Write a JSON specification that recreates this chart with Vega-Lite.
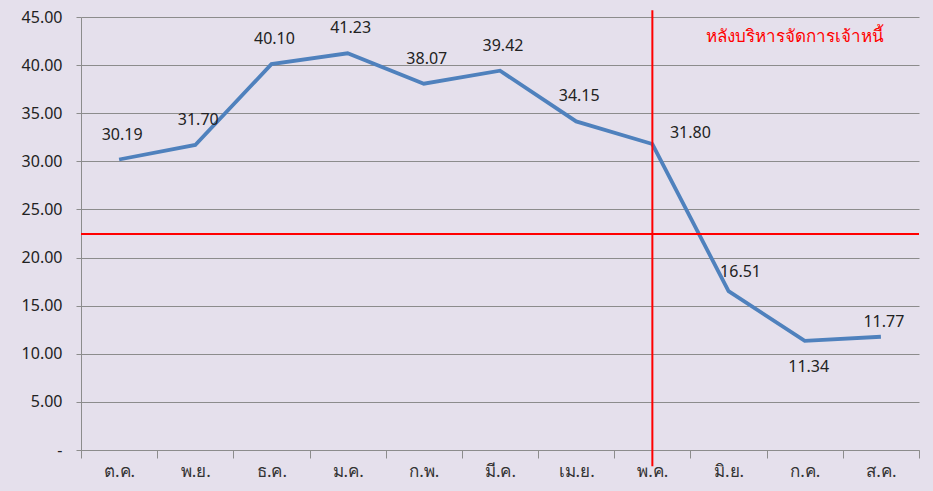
{
  "$schema": "https://vega.github.io/schema/vega-lite/v6.json",
  "autosize": {"type": "none"},
  "width": 838,
  "height": 433,
  "padding": {"left": 81, "top": 17, "right": 14, "bottom": 41},
  "background": "#E5E0EC",
  "config": {
    "view": {"stroke": null},
    "font": "Noto Sans",
    "axis": {"labelFont": "Noto Sans", "labelColor": "#222222"}
  },
  "datasets": {
    "main": [
      {"month": "ต.ค.", "value": 30.19, "pos": "above"},
      {"month": "พ.ย.", "value": 31.70, "pos": "above"},
      {"month": "ธ.ค.", "value": 40.10, "pos": "above"},
      {"month": "ม.ค.", "value": 41.23, "pos": "above"},
      {"month": "ก.พ.", "value": 38.07, "pos": "above"},
      {"month": "มี.ค.", "value": 39.42, "pos": "above"},
      {"month": "เม.ย.", "value": 34.15, "pos": "above"},
      {"month": "พ.ค.", "value": 31.80, "pos": "right"},
      {"month": "มิ.ย.", "value": 16.51, "pos": "upright"},
      {"month": "ก.ค.", "value": 11.34, "pos": "below"},
      {"month": "ส.ค.", "value": 11.77, "pos": "above2"}
    ],
    "vline": [{"month": "พ.ค.", "y0": -1.7, "y1": 45.7}],
    "hline": [{"ref": 22.45}],
    "note": [{"month": "ก.ค.", "y": 42.9, "text": "หลังบริหารจัดการเจ้าหนี้"}]
  },
  "layer": [
    {
      "data": {"name": "main"},
      "mark": {"type": "line", "color": "#4F81BD", "strokeWidth": 3.8},
      "encoding": {
        "x": {
          "field": "month", "type": "nominal", "sort": null,
          "scale": {"paddingInner": 0, "paddingOuter": 0},
          "axis": {
            "title": null, "labelAngle": 0, "labelFontSize": 17, "labelFontWeight": "normal",
            "labelColor": "#333333",
            "tickBand": "extent", "tickSize": 8, "tickColor": "#8C8C8C",
            "domainColor": "#8C8C8C", "labelPadding": 5, "grid": false
          }
        },
        "y": {
          "field": "value", "type": "quantitative",
          "scale": {"domain": [0, 45], "nice": false},
          "axis": {
            "title": null, "values": [0, 5, 10, 15, 20, 25, 30, 35, 40, 45],
            "labelExpr": "datum.value == 0 ? '-' : format(datum.value, '.2f')",
            "labelFontSize": 16, "labelPadding": 14, "tickSize": 5,
            "tickColor": "#8C8C8C", "domainColor": "#8C8C8C",
            "gridColor": "#8C8C8C", "gridWidth": 1
          }
        }
      }
    },
    {
      "data": {"name": "main"},
      "transform": [{"filter": "datum.pos == 'above'"}],
      "mark": {"type": "text", "fontSize": 16, "color": "#222222", "dy": -25, "dx": 3},
      "encoding": {
        "x": {"field": "month", "type": "nominal", "sort": null},
        "y": {"field": "value", "type": "quantitative"},
        "text": {"field": "value", "type": "quantitative", "format": ".2f"}
      }
    },
    {
      "data": {"name": "main"},
      "transform": [{"filter": "datum.pos == 'above2'"}],
      "mark": {"type": "text", "fontSize": 16, "color": "#222222", "dy": -15, "dx": 3},
      "encoding": {
        "x": {"field": "month", "type": "nominal", "sort": null},
        "y": {"field": "value", "type": "quantitative"},
        "text": {"field": "value", "type": "quantitative", "format": ".2f"}
      }
    },
    {
      "data": {"name": "main"},
      "transform": [{"filter": "datum.pos == 'right'"}],
      "mark": {"type": "text", "fontSize": 16, "color": "#222222", "dy": -11, "dx": 38},
      "encoding": {
        "x": {"field": "month", "type": "nominal", "sort": null},
        "y": {"field": "value", "type": "quantitative"},
        "text": {"field": "value", "type": "quantitative", "format": ".2f"}
      }
    },
    {
      "data": {"name": "main"},
      "transform": [{"filter": "datum.pos == 'upright'"}],
      "mark": {"type": "text", "fontSize": 16, "color": "#222222", "dy": -19, "dx": 12},
      "encoding": {
        "x": {"field": "month", "type": "nominal", "sort": null},
        "y": {"field": "value", "type": "quantitative"},
        "text": {"field": "value", "type": "quantitative", "format": ".2f"}
      }
    },
    {
      "data": {"name": "main"},
      "transform": [{"filter": "datum.pos == 'below'"}],
      "mark": {"type": "text", "fontSize": 16, "color": "#222222", "dy": 26, "dx": 4},
      "encoding": {
        "x": {"field": "month", "type": "nominal", "sort": null},
        "y": {"field": "value", "type": "quantitative"},
        "text": {"field": "value", "type": "quantitative", "format": ".2f"}
      }
    },
    {
      "data": {"name": "hline"},
      "mark": {"type": "rule", "color": "#FF0000", "strokeWidth": 2},
      "encoding": {"y": {"field": "ref", "type": "quantitative"}}
    },
    {
      "data": {"name": "vline"},
      "mark": {"type": "rule", "color": "#FF0000", "strokeWidth": 2, "clip": false},
      "encoding": {
        "x": {"field": "month", "type": "nominal", "sort": null},
        "y": {"field": "y0", "type": "quantitative"},
        "y2": {"field": "y1"}
      }
    },
    {
      "data": {"name": "note"},
      "mark": {"type": "text", "fontSize": 17, "color": "#FF0000", "dx": -10},
      "encoding": {
        "x": {"field": "month", "type": "nominal", "sort": null},
        "y": {"field": "y", "type": "quantitative"},
        "text": {"field": "text"}
      }
    }
  ]
}
